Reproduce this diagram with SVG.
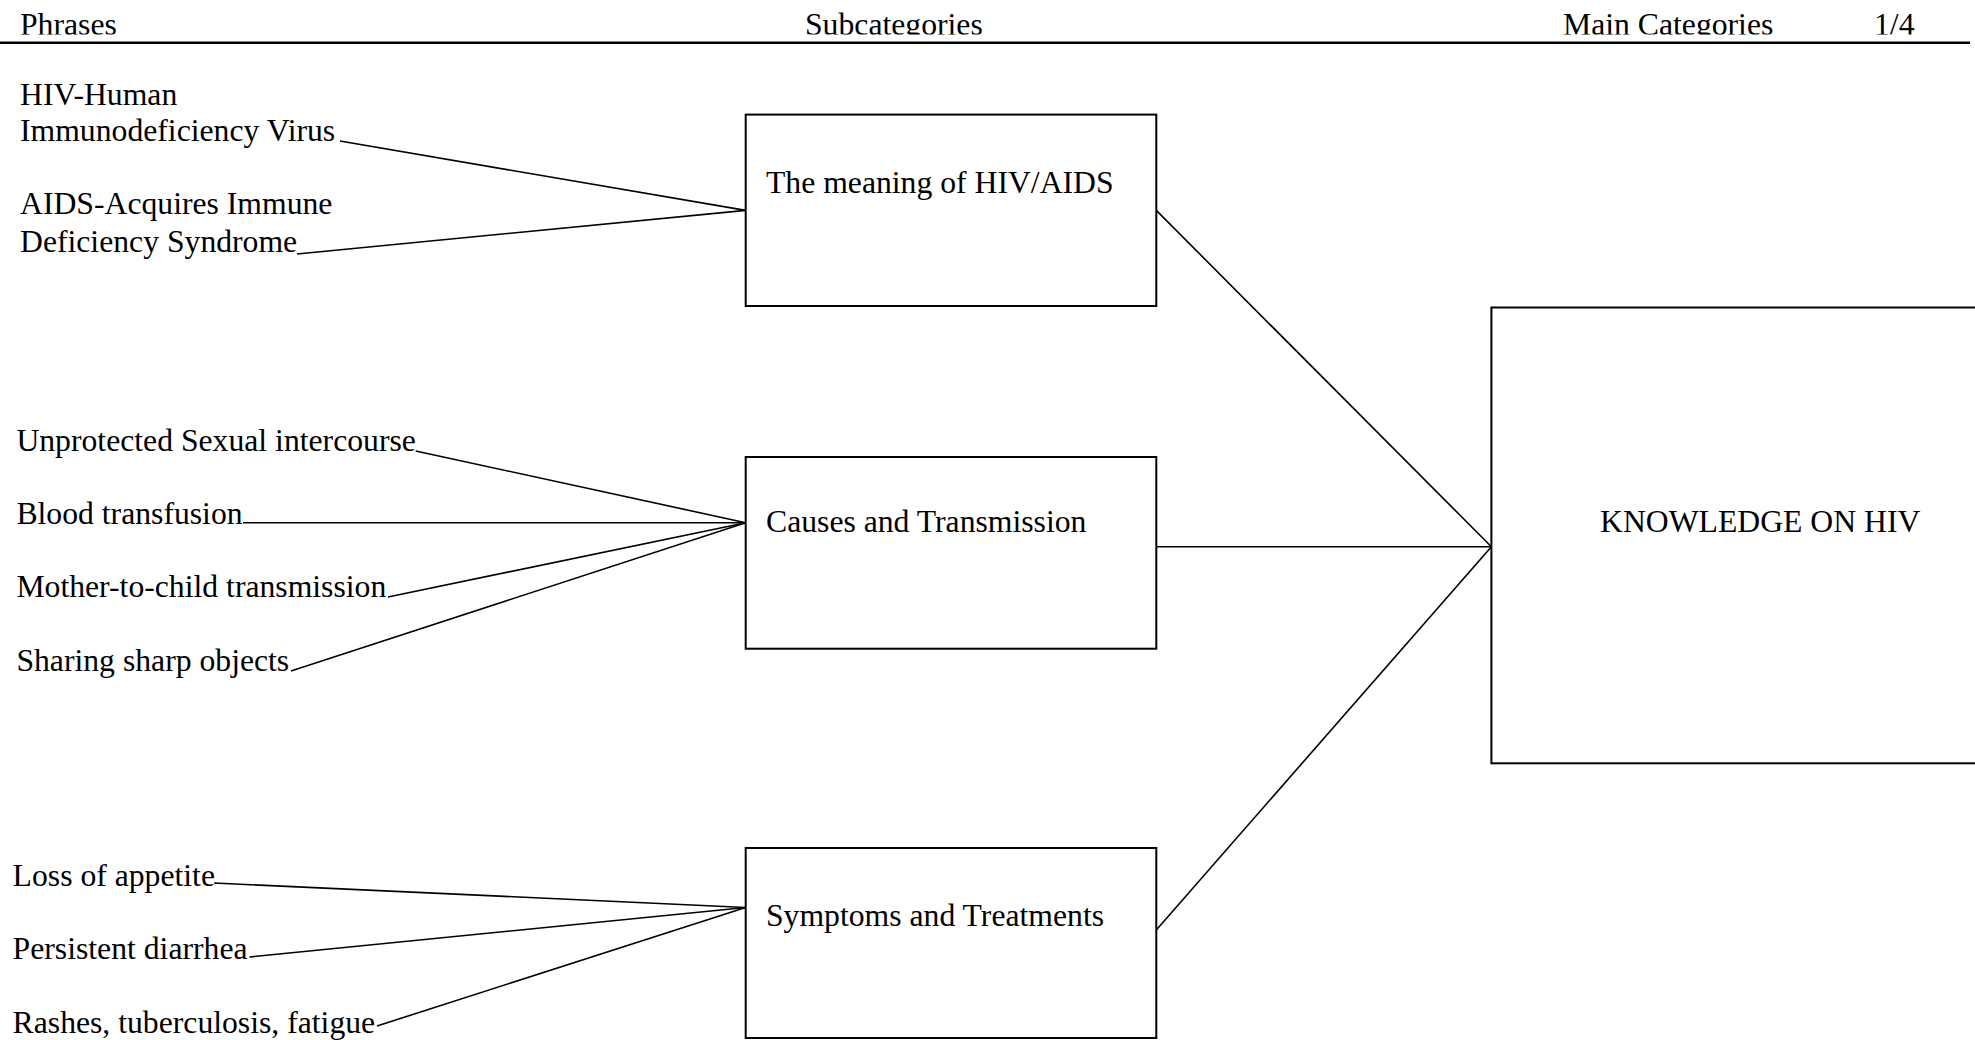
<svg xmlns="http://www.w3.org/2000/svg" width="1975" height="1040" viewBox="0 0 1975 1040">
<style>
text{font-family:"Liberation Serif","Times New Roman",serif;font-size:31.7px;fill:#000}
.box{fill:#fff;stroke:#000;stroke-width:2}
.ln{stroke:#000;stroke-width:1.6;fill:none}
</style>
<defs>
<clipPath id="hclip"><rect x="0" y="0" width="1975" height="34.5"/></clipPath>
</defs>
<rect width="1975" height="1040" fill="#fff"/>
<g id="header">
<g clip-path="url(#hclip)">
<text x="20" y="35">Phrases</text>
<text x="805" y="35">Subcategories</text>
<text x="1563" y="35">Main Categories</text>
<text x="1874" y="35">1/4</text>
</g>
<line x1="0" y1="42.8" x2="1970" y2="42.8" stroke="#000" stroke-width="2.4"/>
</g>
<g id="connectors">
<line class="ln" x1="340" y1="141" x2="745.7" y2="210.4"/>
<line class="ln" x1="297" y1="254" x2="745.7" y2="210.4"/>
<line class="ln" x1="415.7" y1="451" x2="745.7" y2="522.7"/>
<line class="ln" x1="243" y1="522.7" x2="745.7" y2="522.7"/>
<line class="ln" x1="388" y1="597" x2="745.7" y2="522.7"/>
<line class="ln" x1="291" y1="671" x2="745.7" y2="522.7"/>
<line class="ln" x1="214" y1="883" x2="745.7" y2="907.5"/>
<line class="ln" x1="249.5" y1="957" x2="745.7" y2="907.5"/>
<line class="ln" x1="377" y1="1026" x2="745.7" y2="907.5"/>
<line class="ln" x1="1156.3" y1="210.4" x2="1491.4" y2="546.7"/>
<line class="ln" x1="1156.3" y1="546.7" x2="1491.4" y2="546.7"/>
<line class="ln" x1="1156.3" y1="930" x2="1491.4" y2="546.7"/>
</g>
<g id="phrases-meaning">
<text x="20" y="104.5">HIV-Human</text>
<text x="20" y="141">Immunodeficiency Virus</text>
<text x="20" y="214">AIDS-Acquires Immune</text>
<text x="20" y="252">Deficiency Syndrome</text>
</g>
<g id="phrases-causes">
<text x="16.4" y="451">Unprotected Sexual intercourse</text>
<text x="16.4" y="524">Blood transfusion</text>
<text x="16.4" y="597">Mother-to-child transmission</text>
<text x="16.4" y="671">Sharing sharp objects</text>
</g>
<g id="phrases-symptoms">
<text x="12.6" y="885.5">Loss of appetite</text>
<text x="12.6" y="958.5">Persistent diarrhea</text>
<text x="12.6" y="1033">Rashes, tuberculosis, fatigue</text>
</g>
<g id="node-meaning">
<rect class="box" x="745.7" y="114.6" width="410.6" height="191.4"/>
<text x="766" y="193">The meaning of HIV/AIDS</text>
</g>
<g id="node-causes">
<rect class="box" x="745.7" y="457" width="410.6" height="191.7"/>
<text x="766" y="531.5">Causes and Transmission</text>
</g>
<g id="node-symptoms">
<rect class="box" x="745.7" y="848" width="410.6" height="190"/>
<text x="766" y="925.8">Symptoms and Treatments</text>
</g>
<g id="node-knowledge">
<rect class="box" x="1491.4" y="307.5" width="500" height="455.8"/>
<text x="1600" y="531.5">KNOWLEDGE ON HIV</text>
</g>
</svg>
